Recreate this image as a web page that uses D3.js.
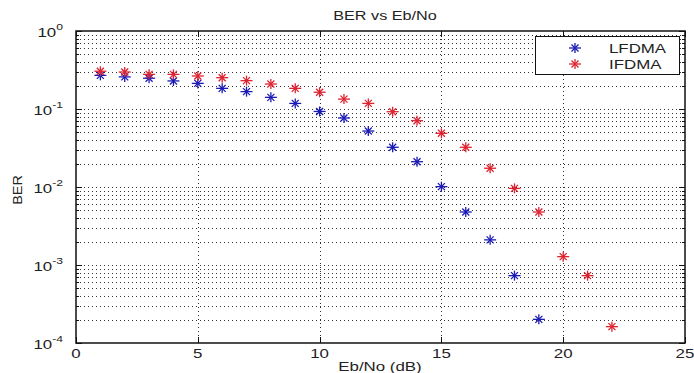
<!DOCTYPE html>
<html>
<head>
<meta charset="utf-8">
<script src="https://cdn.jsdelivr.net/npm/d3@7"></script>
<style>
  html, body { margin: 0; padding: 0; background: #fff; }
  text { font-family: "Liberation Sans", Arial, sans-serif; fill: #222; }
</style>
</head>
<body>
<div id="chart"></div>
<script>
// data
const ebnoL = [1, 2, 3, 4, 5, 6, 7, 8, 9, 10, 11, 12, 13, 14, 15, 16, 17, 18, 19];
const berLFDMA = [0.27, 0.258, 0.248, 0.229, 0.213, 0.184, 0.167, 0.141, 0.118, 0.093,
  0.0767, 0.0522, 0.0323, 0.0211, 0.0101, 0.00478, 0.0021, 0.00073, 0.000201];
const ebnoI = [1, 2, 3, 4, 5, 6, 7, 8, 9, 10, 11, 12, 13, 14, 15, 16, 17, 18, 19, 20, 21, 22];
const berIFDMA = [0.305, 0.298, 0.278, 0.278, 0.265, 0.252, 0.231, 0.209, 0.184, 0.164,
  0.134, 0.118, 0.0923, 0.0708, 0.0488, 0.0323, 0.0174, 0.0096, 0.00478, 0.00128, 0.00073, 0.000162];
const xTicks = [0, 5, 10, 15, 20, 25];
const yExps = [0, -1, -2, -3, -4];

const W = 694, H = 373;
const mLeft = 76, mRight = 685, mTop = 31, mBottom = 343;
const stretch = 1.35; // text in the picture is wide

const svg = d3.select('#chart').append('svg')
  .attr('width', W).attr('height', H)
  .style('background', '#fff');

const x = d3.scaleLinear().domain([0, 25]).range([mLeft, mRight]);
const y = d3.scaleLog().domain([1e-4, 1]).range([mBottom, mTop]);

// grid
const grid = svg.append('g')
  .attr('stroke', '#333').attr('stroke-width', 1)
  .attr('stroke-dasharray', '1,3').attr('fill', 'none');

const minorVals = [];
for (let e = -4; e < 0; e++) {
  for (let m = 2; m <= 9; m++) minorVals.push(m * Math.pow(10, e));
}
const majorVals = yExps.map(e => Math.pow(10, e)).filter(v => v > 1e-4 && v < 1);

grid.selectAll('.hg')
  .data(minorVals.concat(majorVals))
  .enter().append('line')
  .attr('x1', mLeft).attr('x2', mRight)
  .attr('y1', d => Math.round(y(d)) + 0.5)
  .attr('y2', d => Math.round(y(d)) + 0.5);

grid.selectAll('.vg')
  .data(xTicks.filter(d => d > 0 && d < 25))
  .enter().append('line')
  .attr('y1', mTop).attr('y2', mBottom)
  .attr('x1', d => Math.round(x(d)) + 0.5)
  .attr('x2', d => Math.round(x(d)) + 0.5);

// ticks (inward, all four sides)
const ticks = svg.append('g').attr('stroke', '#111').attr('stroke-width', 1);
xTicks.forEach(t => {
  const px = Math.round(x(t)) + 0.5;
  ticks.append('line').attr('x1', px).attr('x2', px).attr('y1', mBottom).attr('y2', mBottom - 6);
  ticks.append('line').attr('x1', px).attr('x2', px).attr('y1', mTop).attr('y2', mTop + 6);
});
majorVals.concat([1, 1e-4]).forEach(v => {
  const py = Math.round(y(v)) + 0.5;
  ticks.append('line').attr('x1', mLeft).attr('x2', mLeft + 6).attr('y1', py).attr('y2', py);
  ticks.append('line').attr('x1', mRight).attr('x2', mRight - 6).attr('y1', py).attr('y2', py);
});
minorVals.forEach(v => {
  const py = Math.round(y(v)) + 0.5;
  ticks.append('line').attr('x1', mLeft).attr('x2', mLeft + 3).attr('y1', py).attr('y2', py);
  ticks.append('line').attr('x1', mRight).attr('x2', mRight - 3).attr('y1', py).attr('y2', py);
});

// box
svg.append('rect')
  .attr('x', mLeft).attr('y', mTop)
  .attr('width', mRight - mLeft).attr('height', mBottom - mTop)
  .attr('fill', 'none').attr('stroke', '#111').attr('stroke-width', 1.5);

// helper for stretched text
function label(px, py, str, size, anchor) {
  const g = svg.append('g').attr('transform', `translate(${px},${py}) scale(${stretch},1)`);
  return g.append('text')
    .attr('text-anchor', anchor || 'middle')
    .style('font-size', size + 'px')
    .text(str);
}

// x tick labels
xTicks.forEach(t => label(x(t), mBottom + 15, String(t), 12.5));

// y tick labels 10^e
yExps.forEach(e => {
  const py = y(Math.pow(10, e));
  const g = svg.append('g').attr('transform', `translate(${mLeft - 13},${py}) scale(${stretch},1)`);
  const txt = g.append('text').attr('text-anchor', 'end').style('font-size', '12.5px');
  txt.append('tspan').attr('y', 6).text('10');
  txt.append('tspan').attr('dy', -7).style('font-size', '9px').text(String(e));
});

// titles
label(385, 20, 'BER vs Eb/No', 12);
label(380, 371, 'Eb/No (dB)', 12.5);
svg.append('g').attr('transform', 'translate(22,190) rotate(-90) scale(1.2,1)')
  .append('text').attr('text-anchor', 'middle').style('font-size', '12px').text('BER');

// asterisk marker
function star(sel, color) {
  sel.append('line').attr('x1', -6).attr('x2', 6).attr('y1', 0).attr('y2', 0);
  sel.append('line').attr('x1', 0).attr('x2', 0).attr('y1', -5).attr('y2', 5);
  sel.append('line').attr('x1', -3.5).attr('x2', 3.5).attr('y1', -3.5).attr('y2', 3.5);
  sel.append('line').attr('x1', -3.5).attr('x2', 3.5).attr('y1', 3.5).attr('y2', -3.5);
  sel.attr('stroke', color).attr('stroke-width', 1.3);
}

const blue = '#1a1ab4', red = '#dd2230';

const series = [
  { name: 'LFDMA', xs: ebnoL, ys: berLFDMA, color: blue },
  { name: 'IFDMA', xs: ebnoI, ys: berIFDMA, color: red }
];

series.forEach(s => {
  svg.append('g').selectAll('g')
    .data(s.xs.map((d, i) => [d, s.ys[i]]))
    .enter().append('g')
    .attr('transform', d => `translate(${x(d[0])},${y(d[1])})`)
    .each(function () { star(d3.select(this), s.color); });
});

// legend
const lg = svg.append('g');
lg.append('rect')
  .attr('x', 535.5).attr('y', 36.5).attr('width', 144).attr('height', 38)
  .attr('fill', '#fff').attr('stroke', '#111').attr('stroke-width', 1);
series.forEach((s, i) => {
  const ly = 48 + i * 16;
  const m = lg.append('g').attr('transform', `translate(575,${ly})`);
  star(m, s.color);
  label(609, ly + 5, s.name, 12.5, 'start');
});
</script>
</body>
</html>
